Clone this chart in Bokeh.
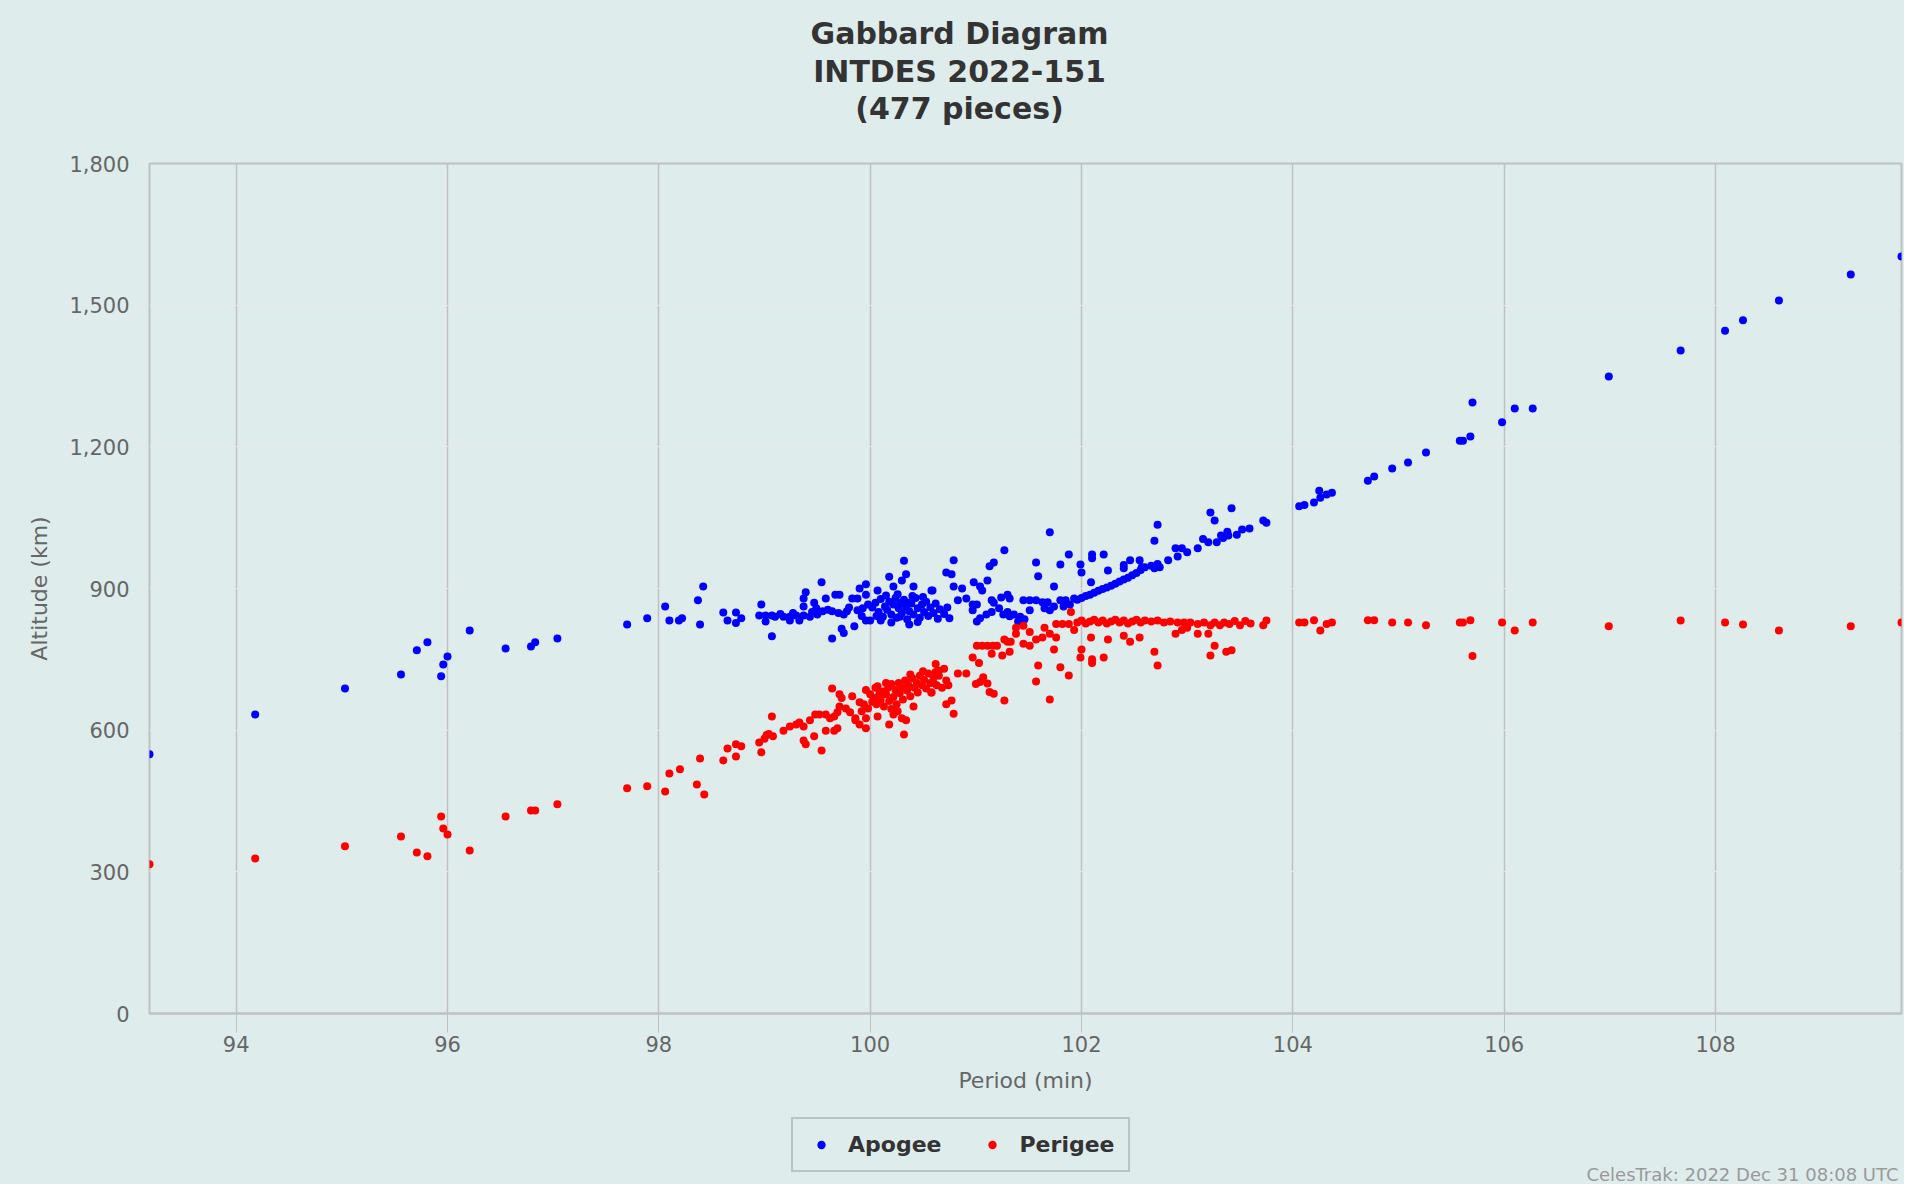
from bokeh.plotting import figure
from bokeh.layouts import column
from bokeh.models import (ColumnDataSource, Range1d, FixedTicker, NumeralTickFormatter,
                          Label, Legend, LegendItem)
from bokeh.embed import file_html
from bokeh.resources import INLINE

# ---------------- data ----------------
apogee_period = [
    93.18, 94.18, 95.03, 95.56, 95.71, 95.81, 95.94, 95.96, 96.00, 96.21, 96.55, 96.79, 96.83, 97.04, 97.70, 97.89,
    98.06, 98.10, 98.19, 98.22, 98.37, 98.39, 98.42, 98.61, 98.65, 98.73, 98.73, 98.78, 98.97, 98.95, 99.01, 99.07,
    99.10, 99.01, 99.07, 99.18, 99.24, 99.24, 99.30, 99.33, 99.37, 99.43, 99.37, 99.39, 99.37, 99.47, 99.49, 99.54,
    99.58, 99.64, 99.67, 99.71, 99.60, 99.64, 99.70, 99.75, 99.73, 99.75, 99.85, 99.83, 99.88, 99.90, 99.96, 99.96,
    99.88, 99.96, 100.00, 100.07, 100.18, 100.22, 100.30, 100.34, 100.32, 100.41, 100.58, 100.37,
    100.02, 100.05, 100.08, 100.10, 100.12, 100.14, 100.16, 100.18, 100.20, 100.22, 100.24, 100.25, 100.27, 100.29,
    100.30, 100.32, 100.34, 100.35, 100.37, 100.39, 100.41, 100.43, 100.45, 100.47, 100.49, 100.51, 100.53, 100.55,
    100.57, 100.60, 100.62, 100.64, 100.66, 100.10, 100.20, 100.28, 100.15, 100.26, 100.40, 100.50, 100.45, 100.36,
    100.06, 99.98, 99.93, 99.92, 99.80, 99.78, 99.55, 99.50, 99.45, 99.27, 99.15,
    100.59, 100.70, 100.73, 100.75, 100.72, 100.77, 100.79, 100.79, 100.87, 100.83, 100.91, 100.98, 101.04, 101.06,
    101.11, 100.97, 101.01, 100.97, 101.01, 101.04, 101.13, 101.17, 101.27, 101.15, 101.17, 101.24, 101.30, 101.32,
    101.10, 101.15, 101.22, 101.30, 101.26, 101.32, 101.36, 101.42, 101.40, 101.46, 101.51, 101.57, 101.59, 101.57,
    101.45, 101.51, 101.63, 101.68, 101.74, 101.70, 101.65, 101.70, 101.74, 101.80, 101.88, 101.80, 101.85, 101.83,
    101.89, 101.93, 101.99, 102.00, 102.10, 102.10, 102.09, 102.21, 102.25,
    101.96, 102.00, 102.04, 102.08, 102.12, 102.16, 102.20, 102.24, 102.28, 102.32, 102.36, 102.40, 102.44, 102.48,
    102.52, 102.56, 102.60, 102.66, 102.72,
    102.40, 102.40, 102.46, 102.55, 102.57, 102.69, 102.72, 102.69, 102.74, 102.82, 102.89, 102.95, 102.91, 103.00,
    103.10, 103.15, 103.22, 103.26, 103.20, 103.28, 103.32, 103.38,
    103.42, 103.34, 103.39, 103.47, 103.52, 103.59, 103.72, 103.75, 104.06, 104.11, 104.20, 104.25, 104.26, 104.32,
    104.37, 104.71, 104.77, 104.94, 105.09, 105.26, 105.58, 105.61, 105.68, 105.70, 105.98, 106.10, 106.27,
    106.99, 107.67, 108.09, 108.26, 108.60, 109.28, 109.76,
]
apogee_km = [
    549, 633, 688, 718, 769, 786, 714, 739, 756, 811, 773, 777, 786, 794, 824, 837,
    862, 832, 832, 837, 875, 824, 904, 849, 832, 849, 827, 837, 866, 843, 843, 843,
    840, 830, 799, 840, 840, 832, 843, 832, 843, 840, 879, 892, 862, 870, 858, 913,
    879, 794, 887, 887, 855, 852, 848, 845, 815, 806, 820, 879, 879, 900, 909, 887,
    854, 832, 832, 896, 925, 904, 917, 930, 959, 904, 896, 824,
    860, 870, 850, 878, 840, 862, 855, 872, 845, 866, 880, 838, 858, 870,
    848, 876, 862, 835, 852, 868, 845, 880, 858, 838, 866, 850, 872, 842,
    860, 848, 868, 836, 856, 832, 828, 840, 885, 888, 884, 882, 829, 870,
    842, 866, 858, 842, 860, 852, 852, 845, 850, 848, 846,
    896, 846, 860, 837, 934, 930, 960, 904, 900, 875, 879, 913, 904, 896,
    917, 866, 866, 854, 830, 837, 947, 955, 981, 875, 870, 881, 887, 879,
    845, 850, 858, 850, 845, 841, 845, 840, 830, 835, 854, 955, 926, 875,
    875, 875, 871, 871, 904, 1019, 858, 854, 862, 951, 972, 875, 875, 862,
    866, 879, 951, 934, 972, 964, 913, 972, 938,
    876, 880, 884, 887, 891, 895, 899, 902, 906, 910, 915, 919, 923, 928,
    933, 939, 945, 948, 952,
    950, 943, 960, 960, 945, 1001, 1035, 943, 945, 960, 985, 985, 968, 977,
    985, 1005, 1061, 1044, 998, 998, 1012, 1020,
    1070, 1007, 1012, 1014, 1025, 1027, 1044, 1039, 1074, 1077, 1082, 1107, 1092, 1099,
    1103, 1128, 1137, 1154, 1167, 1188, 1213, 1213, 1222, 1294, 1252, 1281, 1281,
    1349, 1404, 1446, 1468, 1510, 1565, 1603,
]
perigee_period = [
    93.18, 94.18, 95.03, 95.56, 95.71, 95.81, 95.94, 95.96, 96.00, 96.21, 96.55, 96.79, 96.83, 97.04, 97.70, 97.89,
    98.06, 98.10, 98.20, 98.36, 98.43,
    98.39, 98.61, 98.65, 98.73, 98.78, 98.73, 98.97, 98.95, 99.00, 99.04, 99.08, 99.02, 99.07,
    99.18, 99.24, 99.30, 99.33, 99.37, 99.43, 99.48, 99.52, 99.58, 99.62, 99.66, 99.69, 99.71, 99.77, 99.81, 99.86,
    99.90, 99.94,
    99.64, 99.71, 99.73, 99.83, 99.37, 99.39, 99.47, 99.54, 99.58, 99.66, 99.69, 99.86, 99.90, 99.96, 99.96, 99.96,
    100.00, 100.07, 100.09, 100.07, 100.18, 100.22, 100.32, 100.30, 100.34, 100.41, 100.58, 100.62,
    100.02, 100.04, 100.06, 100.08, 100.10, 100.12, 100.13, 100.15, 100.17, 100.18, 100.20, 100.22, 100.24, 100.25,
    100.27, 100.28, 100.30, 100.31, 100.33, 100.35, 100.36, 100.38, 100.40, 100.42, 100.44, 100.45, 100.47, 100.49,
    100.51, 100.53, 100.55, 100.57, 100.60, 100.63, 100.65, 100.20, 100.26, 100.15, 100.38, 100.50,
    99.98, 99.92, 100.05,
    100.58, 100.60, 100.62, 100.65, 100.68, 100.70, 100.72, 100.74, 100.72, 100.77, 100.79, 100.83, 100.91, 100.97,
    101.03, 101.00, 101.04, 101.11, 101.07, 101.13, 101.17, 101.27, 101.01, 101.06, 101.11, 101.16, 101.20, 101.15,
    101.25, 101.32, 101.27, 101.30, 101.33, 101.38, 101.45, 101.38, 101.51, 101.45, 101.51, 101.57, 101.59, 101.57,
    101.63, 101.65, 101.70, 101.74, 101.76, 101.80, 101.88, 101.70, 101.76, 101.82, 101.88, 101.90, 101.93, 101.99,
    102.00, 102.09, 102.10, 102.10, 102.21, 102.25,
    101.96, 102.00, 102.04, 102.08, 102.12, 102.16, 102.20, 102.24, 102.28, 102.32, 102.36, 102.40, 102.44, 102.48,
    102.52, 102.56, 102.60,
    102.40, 102.46, 102.55, 102.69, 102.72, 102.66, 102.72, 102.78, 102.84, 102.89, 102.95, 103.00, 102.91, 102.97,
    103.03, 103.10, 103.16, 103.22, 103.26, 103.31, 103.35, 103.10, 103.20, 103.26, 103.22, 103.37,
    103.42, 103.40, 103.45, 103.50, 103.55, 103.60, 103.72, 103.75, 104.06, 104.11, 104.20, 104.26, 104.32, 104.37,
    104.71, 104.77, 104.94, 105.09, 105.26, 105.58, 105.61, 105.68, 105.70, 105.98, 106.10, 106.27,
    106.99, 107.67, 108.09, 108.26, 108.60, 109.28, 109.76,
]
perigee_km = [
    316, 328, 354, 375, 341, 333, 417, 392, 379, 345, 417, 430, 430, 443, 477, 481,
    470, 508, 517, 485, 464,
    540, 536, 561, 570, 566, 544, 553, 574, 582, 592, 587, 590, 629,
    599, 608, 612, 616, 608, 621, 633, 633, 633, 625, 629, 638, 650, 646, 638, 625,
    659, 655,
    688, 676, 668, 672, 578, 570, 587, 557, 599, 599, 604, 621, 612, 604, 625, 685,
    676, 693, 680, 629, 612, 633, 591, 625, 621, 650, 680, 723,
    660, 668, 655, 672, 664, 682, 650, 676, 690, 662, 698, 670, 685, 655,
    700, 678, 690, 665, 705, 684, 696, 672, 710, 690, 700, 680, 715, 695,
    706, 688, 720, 700, 712, 695, 726, 645, 640, 700, 718, 725,
    646, 640, 690,
    680, 700, 740, 715, 690, 730, 705, 695, 655, 663, 635, 720, 720, 754,
    742, 698, 702, 699, 712, 681, 677, 663, 779, 779, 779, 779, 779, 762,
    758, 766, 792, 787, 787, 817, 821, 804, 808, 783, 779, 703, 737, 792,
    796, 817, 804, 771, 796, 733, 716, 665, 825, 825, 825, 850, 812, 754,
    771, 796, 750, 742, 754, 792,
    828, 832, 826, 830, 834, 828, 832, 826, 830, 834, 828, 832, 826, 830,
    834, 828, 832,
    800, 787, 796, 766, 737, 830, 832, 828, 830, 804, 812, 817, 828, 828,
    828, 825, 828, 822, 828, 822, 828, 804, 804, 779, 758, 766,
    769, 825, 831, 822, 831, 826, 822, 832, 828, 828, 833, 811, 825, 828,
    833, 833, 828, 828, 822, 828, 828, 833, 757, 828, 811, 828,
    820, 832, 828, 824, 811, 820, 828,
]
x_ticks = [94, 96, 98, 100, 102, 104, 106, 108]
y_ticks = [0, 300, 600, 900, 1200, 1500, 1800]
title_lines = ["Gabbard Diagram", "INTDES 2022-151", "(477 pieces)"]
series_names = ["Apogee", "Perigee"]
series_colors = ["#0000FF", "#FF0000"]
credit_text = "CelesTrak: 2022 Dec 31 08:08 UTC"

# ---------------- layout constants ----------------
BG = "#DFECEC"
FONT = "DejaVu Sans"
W = 1904
HEAD_H, MAIN_H, FOOT_H = 148, 952, 84
FRAME_L, FRAME_R = 149, 1901   # frame edges, shared by the stacked panels


def blank_panel(height):
    f = figure(width=W, height=height, output_backend="svg", toolbar_location=None,
               title_location=None,
               x_range=Range1d(FRAME_L, FRAME_R), y_range=Range1d(0, height),
               x_axis_location=None, y_axis_location=None,
               min_border=0, min_border_left=FRAME_L, min_border_right=W - FRAME_R,
               min_border_top=0, min_border_bottom=0,
               background_fill_color=BG, border_fill_color=BG)
    f.grid.visible = False
    f.outline_line_color = BG
    f.outline_line_width = 2
    return f


# ---------------- header (title) ----------------
head = blank_panel(HEAD_H)
for line, pos in zip(title_lines, [33, 71, 108]):
    head.add_layout(Label(x=959, y=HEAD_H - pos, text=line, text_font=FONT,
                          text_font_size="30px", text_font_style="bold", text_color="#333333",
                          text_align="center", text_baseline="alphabetic"))

# ---------------- main chart ----------------
all_periods = apogee_period + perigee_period
p = figure(width=W, height=MAIN_H, output_backend="svg", toolbar_location=None,
           title_location=None,
           x_range=Range1d(min(all_periods), max(all_periods)),
           y_range=Range1d(0, 1800),
           min_border_left=FRAME_L, min_border_right=W - FRAME_R,
           min_border_top=15, min_border_bottom=87,
           background_fill_color=BG, border_fill_color=BG)
p.outline_line_color = "#C0C0C0"
p.outline_line_width = 2

xa = p.xaxis[0]
xa.ticker = FixedTicker(ticks=x_ticks)
xa.minor_tick_line_color = None
xa.major_tick_out = 19
xa.major_tick_in = 0
xa.major_tick_line_color = "#C0C0C0"
xa.axis_line_color = "#C0C0C0"
xa.axis_line_width = 2
xa.major_label_text_font = FONT
xa.major_label_text_font_size = "21px"
xa.major_label_text_color = "#666666"
xa.major_label_standoff = 3
xa.axis_label = "Period (min)"
xa.axis_label_text_font = FONT
xa.axis_label_text_font_size = "22px"
xa.axis_label_text_font_style = "normal"
xa.axis_label_text_color = "#666666"
xa.axis_label_standoff = 13

ya = p.yaxis[0]
ya.ticker = FixedTicker(ticks=y_ticks)
ya.formatter = NumeralTickFormatter(format="0,0")
ya.minor_tick_line_color = None
ya.major_tick_out = 0
ya.major_tick_in = 0
ya.axis_line_color = None
ya.major_label_text_font = FONT
ya.major_label_text_font_size = "21px"
ya.major_label_text_color = "#666666"
ya.major_label_standoff = 20
ya.axis_label = "Altitude (km)"
ya.axis_label_text_font = FONT
ya.axis_label_text_font_size = "22px"
ya.axis_label_text_font_style = "normal"
ya.axis_label_text_color = "#666666"
ya.axis_label_standoff = 14

p.xgrid.ticker = FixedTicker(ticks=x_ticks)
p.xgrid.grid_line_color = "#C0C0C0"
p.xgrid.grid_line_width = 1.5
p.ygrid.ticker = FixedTicker(ticks=y_ticks)
p.ygrid.grid_line_color = "#E8E8E8"
p.ygrid.grid_line_width = 1.2

src_a = ColumnDataSource(dict(x=apogee_period, y=apogee_km))
src_p = ColumnDataSource(dict(x=perigee_period, y=perigee_km))
p.scatter("x", "y", source=src_a, marker="circle", size=8,
          fill_color=series_colors[0], line_color=series_colors[0], line_width=0)
p.scatter("x", "y", source=src_p, marker="circle", size=8,
          fill_color=series_colors[1], line_color=series_colors[1], line_width=0)

# ---------------- footer (legend + credit) ----------------
foot = blank_panel(FOOT_H)
# legend swatches: renderers whose single point lies outside the visible range
leg_r = [foot.scatter(x=[-1000], y=[-1000], marker="circle", size=8, fill_color=c,
                      line_color=c, line_width=0)
         for c in series_colors]
legend = Legend(items=[LegendItem(label=n, renderers=[r]) for n, r in zip(series_names, leg_r)],
                orientation="horizontal", location=(791 - FRAME_L, 12),
                padding=13, glyph_width=30, glyph_height=21, label_standoff=12, spacing=36,
                margin=0,
                label_text_font=FONT, label_text_font_size="22px", label_text_font_style="bold",
                label_text_color="#333333", border_line_color="#999999", border_line_width=2,
                background_fill_color=BG, background_fill_alpha=1.0)
foot.add_layout(legend, "center")
foot.add_layout(Label(x=1898, y=10, text=credit_text, text_font=FONT, text_font_size="18px",
                      text_color="#999999", text_align="right", text_baseline="alphabetic"))

layout = column(head, p, foot, spacing=0, styles={"background-color": BG})
open("out.html", "w").write(file_html(layout, INLINE))
